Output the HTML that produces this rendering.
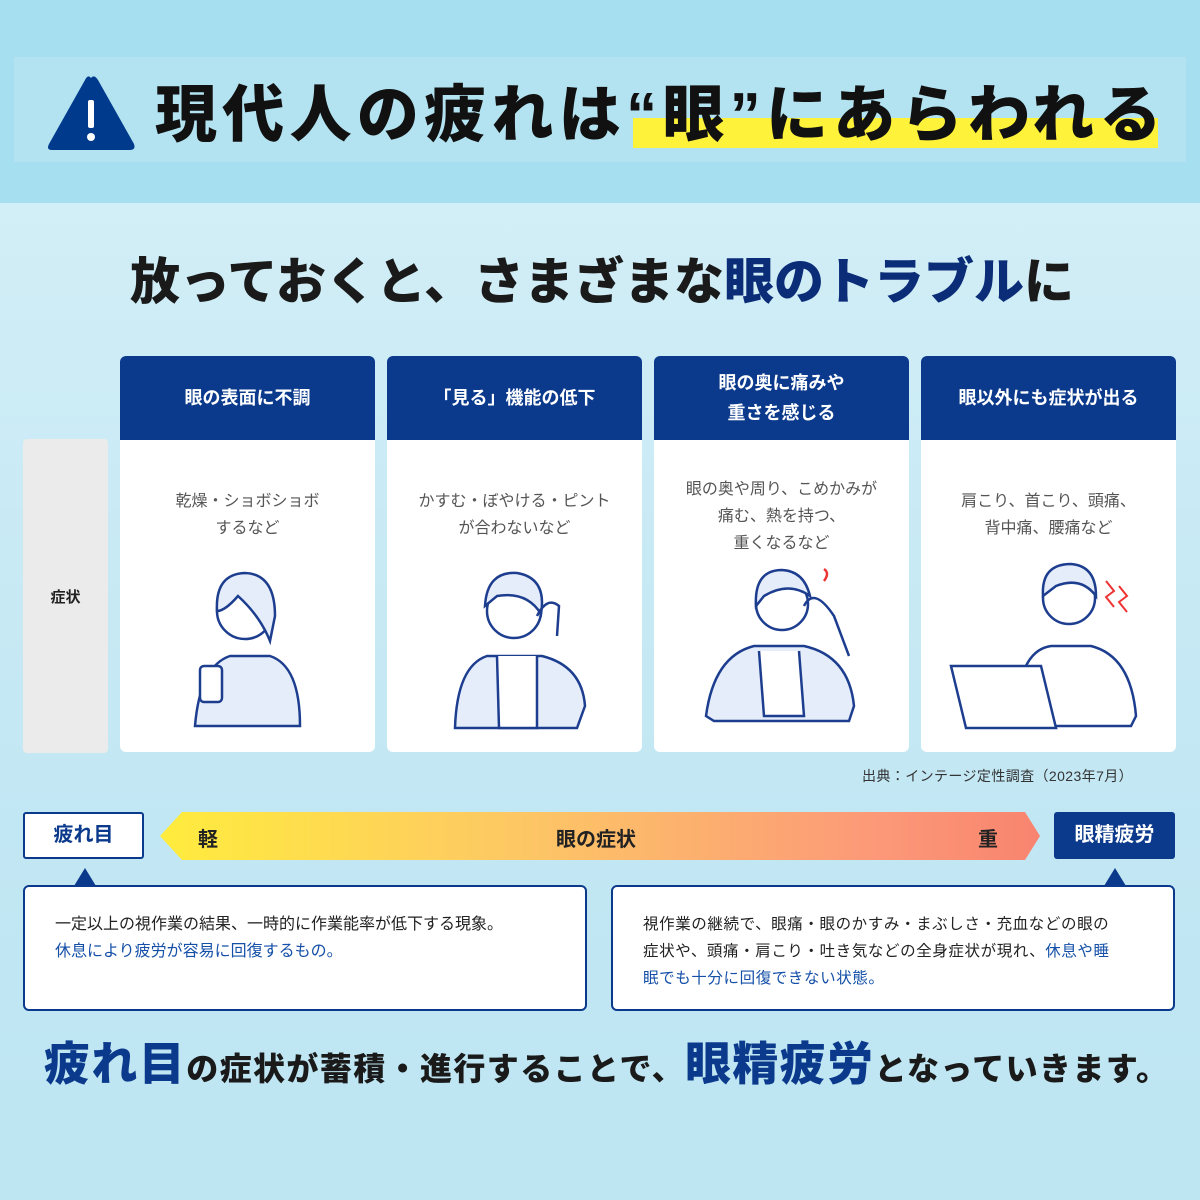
<!DOCTYPE html>
<html><head><meta charset="utf-8"><style>
*{margin:0;padding:0;box-sizing:border-box}
body{width:1200px;height:1200px;position:relative;overflow:hidden;font-family:"Liberation Sans","Noto Sans CJK JP",sans-serif;background:linear-gradient(#d2eef7 203px,#c4e8f4 700px,#bde5f2 1200px)}
.a{position:absolute}
.top{left:0;top:0;width:1200px;height:203px;background:#a6dff0}
.ban{left:14px;top:57px;width:1172px;height:105px;background:#b3e3f1}
.t1{left:155px;top:64px;font-size:62px;font-weight:900;color:#111;letter-spacing:5.3px;white-space:nowrap}
.hl{left:633px;top:118px;width:525px;height:30px;background:#fff23a}
.t2{left:130px;top:242px;font-size:50px;font-weight:900;color:#1a1a1a;white-space:nowrap;letter-spacing:0}
.card{top:356px;width:255px;height:396px;background:#fff;border-radius:6px;overflow:hidden}
.ch{height:84px;background:#0b3a8c;color:#fff;font-size:18px;font-weight:700;display:flex;align-items:center;justify-content:center;text-align:center;line-height:30px}
.cb{text-align:center;color:#555;font-size:16px;line-height:27px;margin-top:48px}
.side{left:23px;top:439px;width:85px;height:314px;background:#ebebeb;border-radius:4px;font-size:15px;font-weight:700;display:flex;align-items:center;justify-content:center;color:#222}
.box{top:885px;height:126px;background:#fff;border:2px solid #0b3a8c;border-radius:6px;font-size:16px;line-height:27px;color:#222;padding:24px 0 0 30px}
.bl{color:#1550a8}
svg.il{position:absolute;left:0;top:200px}
</style></head><body>
<div class="a top"></div>
<div class="a ban"></div>
<svg class="a" style="left:46px;top:74px" width="90" height="78"><path d="M45 4 Q48 0 52 6 L88 70 Q90 76 84 76 L6 76 Q0 76 3 70 L39 6 Q42 0 45 4Z" fill="#003a8c"/><rect x="42" y="26" width="6" height="28" fill="#fff" rx="2"/><circle cx="45" cy="63" r="4" fill="#fff"/></svg>
<div class="a hl"></div>
<div class="a t1">現代人の疲れは“眼”にあらわれる</div>
<div class="a t2">放っておくと、さまざまな<span style="color:#0b2d78">眼のトラブル</span>に</div>
<div class="a side">症状</div>

<div class="a card" style="left:120px"><div class="ch">眼の表面に不調</div><div class="cb">乾燥・ショボショボ<br>するなど</div>
<svg class="il" width="255" height="196" fill="#e5edfb" stroke="#1d3d8f" stroke-width="2.5"><path d="M75 170 Q80 110 110 100 L150 100 Q180 110 180 170Z"/><circle cx="125" cy="55" r="28" fill="#fff"/><path d="M97 55 Q95 18 125 17 Q155 18 155 60 L150 85 Q140 60 118 40 Q105 55 97 55Z"/><rect x="80" y="110" width="22" height="36" rx="4" fill="#fff"/></svg></div>
<div class="a card" style="left:387px"><div class="ch">「見る」機能の低下</div><div class="cb">かすむ・ぼやける・ピント<br>が合わないなど</div>
<svg class="il" width="255" height="196" fill="#e5edfb" stroke="#1d3d8f" stroke-width="2.5"><path d="M68 172 Q70 110 100 100 L155 100 Q195 110 198 150 L190 172Z"/><path d="M110 100 L112 172 L150 172 L150 100" fill="#fff"/><circle cx="127" cy="55" r="27" fill="#fff"/><path d="M98 50 Q100 15 130 17 Q160 22 154 58 Q140 35 110 40Z"/><path d="M150 60 Q160 40 172 50 L170 80" fill="none"/></svg></div>
<div class="a card" style="left:654px"><div class="ch">眼の奥に痛みや<br>重さを感じる</div><div class="cb" style="margin-top:36px">眼の奥や周り、こめかみが<br>痛む、熱を持つ、<br>重くなるなど</div>
<svg class="il" width="255" height="196" fill="#e5edfb" stroke="#1d3d8f" stroke-width="2.5"><path d="M52 160 Q60 100 100 90 L150 90 Q195 100 200 150 L195 165 L60 165Z"/><path d="M105 95 L110 160 L150 160 L145 95" fill="#fff"/><circle cx="128" cy="48" r="26" fill="#fff"/><path d="M102 50 Q100 14 128 14 Q150 15 156 40 Q135 25 110 40Z"/><path d="M150 50 Q160 30 180 60 L195 100" fill="none"/><path d="M170 25 q6 -8 0 -12" stroke="#e33" fill="none"/></svg></div>
<div class="a card" style="left:921px"><div class="ch">眼以外にも症状が出る</div><div class="cb">肩こり、首こり、頭痛、<br>背中痛、腰痛など</div>
<svg class="il" width="255" height="196" fill="#e5edfb" stroke="#1d3d8f" stroke-width="2.5"><path d="M95 170 Q95 95 130 90 L170 90 Q210 100 215 160 L210 170Z" fill="#fff"/><circle cx="148" cy="42" r="26" fill="#fff"/><path d="M122 40 Q120 8 150 8 Q175 10 175 40 Q160 20 135 30Z"/><path d="M30 110 L120 110 L135 172 L45 172Z" fill="#fff"/><path d="M185 25 l8 10 -8 6 8 10 M198 30 l8 10 -8 6 8 10" stroke="#e33" fill="none" stroke-width="2"/></svg></div>

<div class="a" style="left:862px;top:766px;font-size:14px;color:#333;letter-spacing:0.4px">出典：インテージ定性調査（2023年7月）</div>

<div class="a" style="left:160px;top:812px;width:880px;height:48px;background:linear-gradient(90deg,#ffec3d,#fdc864 40%,#fc9a78 80%,#f8846f);clip-path:polygon(22px 0,865px 0,880px 24px,865px 48px,22px 48px,0 24px)"></div>
<div class="a" style="left:198px;top:823px;font-size:20px;font-weight:700;color:#222">軽</div>
<div class="a" style="left:556px;top:823px;font-size:20px;font-weight:700;color:#222">眼の症状</div>
<div class="a" style="left:978px;top:823px;font-size:20px;font-weight:700;color:#222">重</div>
<div class="a" style="left:23px;top:812px;width:121px;height:47px;background:#fff;border:2px solid #0b3a8c;border-radius:3px;color:#0b3a8c;font-size:20px;font-weight:700;text-align:center;line-height:43px">疲れ目</div>
<div class="a" style="left:1054px;top:812px;width:121px;height:47px;background:#0b3a8c;border-radius:3px;color:#fff;font-size:20px;font-weight:700;text-align:center;line-height:47px">眼精疲労</div>
<div class="a" style="left:74px;top:868px;width:0;height:0;border-left:11px solid transparent;border-right:11px solid transparent;border-bottom:18px solid #0b3a8c"></div>
<div class="a" style="left:1104px;top:868px;width:0;height:0;border-left:11px solid transparent;border-right:11px solid transparent;border-bottom:18px solid #0b3a8c"></div>
<div class="a box" style="left:23px;width:564px">一定以上の視作業の結果、一時的に作業能率が低下する現象。<br><span class="bl">休息により疲労が容易に回復するもの。</span></div>
<div class="a box" style="left:611px;width:564px;font-size:15.5px;letter-spacing:0.6px">視作業の継続で、眼痛・眼のかすみ・まぶしさ・充血などの眼の<br>症状や、頭痛・肩こり・吐き気などの全身症状が現れ、<span class="bl">休息や睡<br>眠でも十分に回復できない状態。</span></div>

<div class="a" style="left:44px;top:1028px;white-space:nowrap;font-weight:900;color:#1a1a1a;font-size:32px;letter-spacing:1.4px"><span style="font-size:46px;color:#0b3a8c">疲れ目</span>の症状が蓄積・進行することで、<span style="font-size:46px;color:#0b3a8c">眼精疲労</span>となっていきます。</div>
</body></html>
